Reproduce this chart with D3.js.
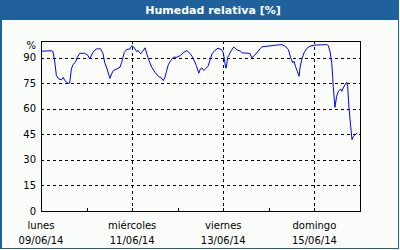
<!DOCTYPE html>
<html>
<head>
<meta charset="utf-8">
<script src="https://d3js.org/d3.v7.min.js"></script>
<style>
  html, body { margin: 0; padding: 0; background: #fff; }
  text { font-family: Tahoma, Verdana, "DejaVu Sans", sans-serif; }
</style>
</head>
<body>
<svg id="chart" width="400" height="250"></svg>
<script>
// ---------------------------
// Data (hours since lunes 09/06/14 00:00, relative humidity %)
// ---------------------------
var hours = [0, 5.4, 6.3, 7.2, 8.1, 9.3, 10.7, 11.7, 12.5, 14.2, 15.1, 16, 16.9, 18.1, 19.1, 20.4, 23,
  24.8, 25.6, 27.4, 29.1, 31.4, 32.7, 33.5, 34.8, 36.3, 37.2, 38.1, 39.9, 41.6, 42.5, 43.9, 45.1, 46.9,
  47.8, 49, 50.4, 51.2, 52.5, 53.6, 54.8, 55.7, 56.9, 58.3, 60, 61.8, 63.6, 64.4, 65.3, 66.2, 67, 68.3, 69.7,
  71.6, 73.4, 75.2, 76.9, 78.6, 79.5, 80.7, 81.8, 83.1, 83.9, 84.8, 85.7, 86.5, 88, 89.2, 90.1, 91.5, 93.2,
  95, 95.9, 96.6, 97.2, 97.6, 98.3, 98.9, 100.2, 101.5, 103.2, 105, 106, 107.4, 110.1, 111, 112.4, 113.6,
  115.4, 116.3, 124.1, 126.8, 128.5, 130.3, 131.5, 132.6, 133.3, 134, 135, 135.9, 136.4, 137.3, 138.5,
  139.9, 141.7, 144.3, 150.5, 151.3, 152.2, 153.1, 153.6, 153.9, 154.8, 155.7, 156.6, 157.8, 158.4, 159.2,
  160.1, 161, 161.5, 162.2, 163.1, 163.8, 164.5, 165.4, 166.6];
var humidity = [93.7, 94, 93.5, 88, 79.4, 77.5, 76.9, 78.4, 76.5, 74.9, 75, 83.3, 86, 87.2, 90.2, 92.5, 92.5,
  91.2, 89.2, 93.1, 95.1, 95.1, 92.2, 87.2, 83.3, 77.8, 80.4, 82.4, 83.3, 84.3, 87.2, 93.1, 94.7, 95.1,
  97, 96, 93.5, 94.1, 92.2, 93.7, 95.7, 92.2, 88.2, 84.3, 81.4, 79, 77.8, 76.5, 78.4, 82.4, 85.7, 88.2, 90.2,
  90.2, 91.2, 93.1, 94.1, 92.2, 90.8, 88.2, 85.3, 80.8, 83.3, 83.9, 82.4, 83.3, 84.9, 89.2, 92.2, 94.1, 95.5,
  94.7, 93.1, 89, 84, 83.9, 90.2, 91.2, 94.1, 96.2, 94.5, 93.8, 92.7, 92.7, 92.4, 89.8, 91.2, 92.7,
  95.1, 96.3, 97.3, 97.6, 96.7, 94.7, 89.8, 86.9, 87.8, 84.9, 81.9, 79, 83.9, 88.8, 92.7,
  95.3, 96.7, 97.3, 97.6, 97, 93.7, 86.9, 79, 73, 60.8, 67.3, 70.2, 71.6, 70.2, 72.2,
  74.1, 75.5, 73, 60.4, 49.6, 41.8, 43.7, 44.7, 45.7];

var yTicks = [0, 15, 30, 45, 60, 75, 90];
var dayNames = ["lunes", "miércoles", "viernes", "domingo"];
var dayDates = ["09/06/14", "11/06/14", "13/06/14", "15/06/14"];
var labelDays = [9, 11, 13, 15];
var gridDays = [11, 13, 15];
var tickDays = [10, 11, 12, 13, 14, 15];

// ---------------------------
// Constants
// ---------------------------
var frameColour = "#21619b";
var lineColour = "#0000f0";
var myFont = "Tahoma, Verdana, 'DejaVu Sans', sans-serif";
var plotLeft = 41, plotRight = 360, plotTop = 40.5, plotBottom = 211;

var svg = d3.select("#chart");
var start = new Date(2014, 5, 9);

var x = d3.scaleTime()
  .domain([start, new Date(2014, 5, 16)])
  .range([plotLeft, plotRight]);
var y = d3.scaleLinear().domain([0, 100]).range([plotBottom, plotTop]);

function day(d) { return new Date(2014, 5, d); }
function px(v) { return Math.round(v) + 0.5; }

// frame + title bar
svg.append("rect").attr("x", 0).attr("y", 0).attr("width", 400).attr("height", 250).attr("fill", "#fbfdfb");
svg.append("rect").attr("x", 0).attr("y", 0).attr("width", 400 - 1).attr("height", 250 - 1).attr("fill", frameColour);
svg.append("rect").attr("x", 2).attr("y", 20).attr("width", 396).attr("height", 228).attr("fill", "#fbfdfb");

svg.append("text")
  .attr("x", 213)
  .attr("y", 10)
  .attr("dy", "0.35em")
  .attr("text-anchor", "middle")
  .attr("font-size", 11)
  .attr("font-weight", "bold")
  .attr("fill", "#ffffff")
  .text("Humedad relativa [%]");

// horizontal grid (dashed)
svg.append("g")
  .selectAll("line")
  .data(yTicks.filter(function(d) { return d > 0; }))
  .enter()
  .append("line")
  .attr("x1", plotLeft).attr("x2", plotRight)
  .attr("y1", function(d) { return px(y(d)); })
  .attr("y2", function(d) { return px(y(d)); })
  .attr("stroke", "#000")
  .attr("stroke-dasharray", "3,3")
  .attr("shape-rendering", "crispEdges");

// vertical grid (dashed)
svg.append("g")
  .selectAll("line")
  .data(gridDays)
  .enter()
  .append("line")
  .attr("x1", function(d) { return px(x(day(d))); })
  .attr("x2", function(d) { return px(x(day(d))); })
  .attr("y1", plotTop).attr("y2", plotBottom)
  .attr("stroke", "#000")
  .attr("stroke-dasharray", "3,3")
  .attr("shape-rendering", "crispEdges");

// plot frame
svg.append("rect")
  .attr("x", px(plotLeft)).attr("y", px(plotTop))
  .attr("width", Math.round(plotRight) - Math.round(plotLeft))
  .attr("height", Math.round(plotBottom) - Math.round(plotTop))
  .attr("fill", "none")
  .attr("stroke", "#000")
  .attr("shape-rendering", "crispEdges");

// day ticks on bottom axis
svg.append("g")
  .selectAll("line")
  .data(tickDays)
  .enter()
  .append("line")
  .attr("x1", function(d) { return px(x(day(d))); })
  .attr("x2", function(d) { return px(x(day(d))); })
  .attr("y1", plotBottom - 3).attr("y2", plotBottom + 1)
  .attr("stroke", "#000")
  .attr("shape-rendering", "crispEdges");

// y labels
svg.append("g")
  .selectAll("text")
  .data(yTicks)
  .enter()
  .append("text")
  .attr("x", 36)
  .attr("y", function(d) { return y(d); })
  .attr("dy", "0.35em")
  .attr("text-anchor", "end")
  .attr("font-size", 10)
  .attr("fill", "#000")
  .text(function(d) { return d; });

svg.append("text")
  .attr("x", 36).attr("y", 45).attr("dy", "0.35em")
  .attr("text-anchor", "end")
  .attr("font-size", 10)
  .text("%");

// x labels
labelDays.forEach(function(d, i) {
  svg.append("text")
    .attr("x", x(day(d))).attr("y", 225).attr("dy", "0.35em")
    .attr("text-anchor", "middle").attr("font-size", 10)
    .text(dayNames[i]);
  svg.append("text")
    .attr("x", x(day(d))).attr("y", 240).attr("dy", "0.35em")
    .attr("text-anchor", "middle").attr("font-size", 10)
    .text(dayDates[i]);
});

// humidity line
var points = hours.map(function(h, i) {
  return { t: new Date(start.getTime() + h * 3600000), v: humidity[i] };
});

svg.append("path")
  .datum(points)
  .attr("fill", "none")
  .attr("stroke", lineColour)
  .attr("stroke-width", 1)
  .attr("d", d3.line()
    .x(function(d) { return x(d.t); })
    .y(function(d) { return y(d.v); }));
</script>
</body>
</html>
